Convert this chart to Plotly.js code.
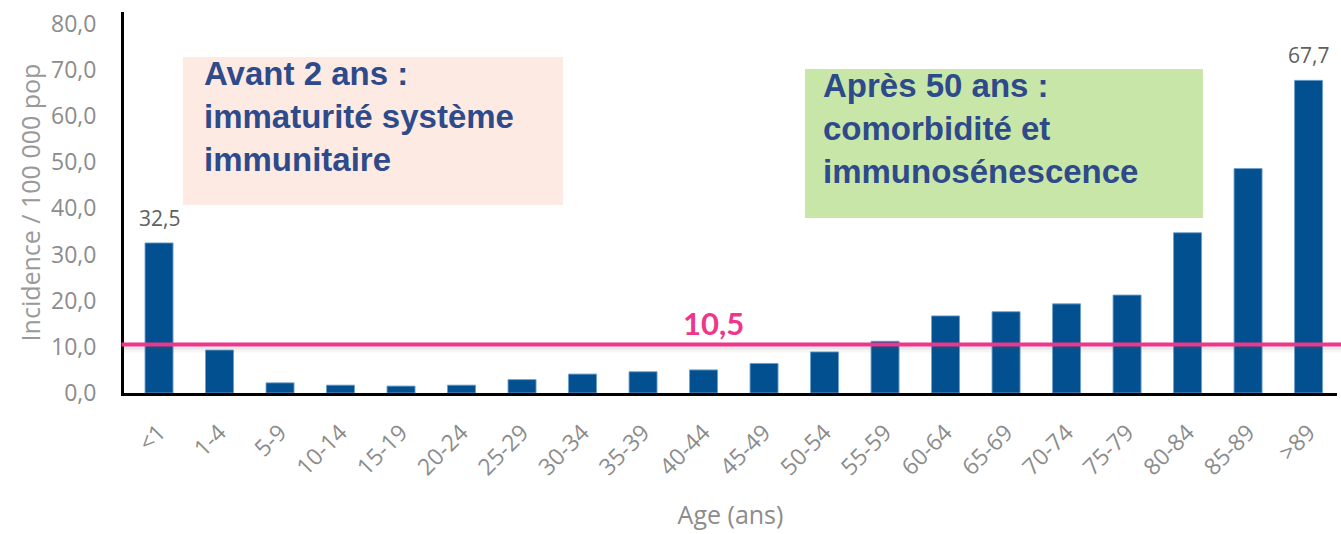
<!DOCTYPE html>
<html>
<head>
<meta charset="utf-8">
<script src="https://cdn.plot.ly/plotly-3.0.1.min.js"></script>
<style>html,body{margin:0;padding:0;background:#fff;}#chart{width:1341px;height:534px;}</style>
</head>
<body>
<div id="chart"></div>
<script>
const categories = ['<1','1-4','5-9','10-14','15-19','20-24','25-29','30-34','35-39','40-44','45-49','50-54','55-59','60-64','65-69','70-74','75-79','80-84','85-89','>89'];
const incidence = [32.5, 9.3, 2.2, 1.7, 1.5, 1.7, 2.9, 4.1, 4.6, 5.0, 6.4, 8.9, 11.2, 16.7, 17.6, 19.3, 21.2, 34.7, 48.6, 67.7];
const labelledBars = [0, 19];
const meanIncidence = 10.5;
const yTickValues = [0, 10, 20, 30, 40, 50, 60, 70, 80];
const yAxisTitle = 'Incidence / 100 000 pop';
const xAxisTitle = 'Age (ans)';
const noteYoung = 'Avant 2 ans :<br>immaturité système<br>immunitaire';
const noteOld = 'Après 50 ans :<br>comorbidité et<br>immunosénescence';

const fmt = v => v.toFixed(1).replace('.', ',');
const grey = '#8c8c8c';
const pink = '#ee378b';
const navy = '#2e4a8b';

const trace = {
  type: 'bar',
  x: categories,
  y: incidence,
  marker: {color: '#02508f', line: {color: 'rgba(110,160,205,0.9)', width: 1}},
  hoverinfo: 'x+y'
};

const annotations = labelledBars.map(i => ({
  x: categories[i], y: incidence[i], xref: 'x', yref: 'y',
  text: fmt(incidence[i]), showarrow: false, yanchor: 'bottom', yshift: 9,
  font: {family: 'Open Sans', size: 21, color: '#5f5f5f'}
}));
annotations.push({
  xref: 'paper', x: 0.4856, yref: 'y', y: meanIncidence, yanchor: 'middle', yshift: 22,
  text: '<b>' + fmt(meanIncidence) + '</b>', showarrow: false,
  font: {family: 'Lato', size: 31, color: pink}
});
annotations.push({
  xref: 'paper', x: 0.0645, yref: 'paper', y: 0.727, xanchor: 'left', yanchor: 'middle', align: 'left',
  text: '<b>' + noteYoung + '</b>', showarrow: false,
  font: {family: 'Liberation Sans', size: 33, color: navy}
});
annotations.push({
  xref: 'paper', x: 0.5748, yref: 'paper', y: 0.6955, xanchor: 'left', yanchor: 'middle', align: 'left',
  text: '<b>' + noteOld + '</b>', showarrow: false,
  font: {family: 'Liberation Sans', size: 33, color: navy}
});

const shapes = [
  {type: 'rect', xref: 'paper', yref: 'paper', x0: 0.0486, x1: 0.3619, y0: 0.4934, y1: 0.8819,
   fillcolor: '#fdebe3', line: {width: 0}, layer: 'below'},
  {type: 'rect', xref: 'paper', yref: 'paper', x0: 0.5614, x1: 0.8895, y0: 0.4593, y1: 0.8504,
   fillcolor: '#c8e6a7', line: {width: 0}, layer: 'below'},
  {type: 'rect', xref: 'paper', x0: -0.002, x1: 1.01, yref: 'y', ysizemode: 'pixel', yanchor: meanIncidence,
   y0: -2, y1: -5, fillcolor: 'rgba(90,90,90,0.14)', line: {width: 0}, layer: 'above'},
  {type: 'rect', xref: 'paper', x0: -0.002, x1: 1.01, yref: 'y', ysizemode: 'pixel', yanchor: meanIncidence,
   y0: -5, y1: -8, fillcolor: 'rgba(90,90,90,0.06)', line: {width: 0}, layer: 'above'},
  {type: 'line', xref: 'paper', x0: -0.002, x1: 1.01, yref: 'y', y0: meanIncidence, y1: meanIncidence,
   line: {color: pink, width: 4}, layer: 'above'}
];

const layout = {
  width: 1341, height: 534,
  margin: {l: 124, r: 4, t: 12, b: 141},
  paper_bgcolor: '#fff', plot_bgcolor: '#fff',
  separators: ', ',
  showlegend: false,
  bargap: 0.537,
  xaxis: {
    type: 'category', range: [-0.579, 19.47],
    showline: true, linecolor: '#000', linewidth: 3, showgrid: false, zeroline: false, ticks: '',
    tickangle: -45, tickfont: {family: 'Open Sans', size: 23, color: grey},
    ticklabelstandoff: 14,
    title: {text: xAxisTitle, font: {family: 'Open Sans', size: 25, color: grey}, standoff: 26},
    automargin: false, fixedrange: true
  },
  yaxis: {
    range: [0, 82.5], tickvals: yTickValues, tickformat: '.1f',
    showline: true, linecolor: '#000', linewidth: 3, showgrid: false, zeroline: false, ticks: '',
    tickfont: {family: 'Open Sans', size: 23, color: grey},
    ticklabelstandoff: 20,
    title: {text: yAxisTitle, font: {family: 'Open Sans', size: 25, color: '#999'}, standoff: 4},
    automargin: false, fixedrange: true
  },
  annotations: annotations,
  shapes: shapes
};

Plotly.newPlot('chart', [trace], layout, {displayModeBar: false, staticPlot: true});
</script>
</body>
</html>
